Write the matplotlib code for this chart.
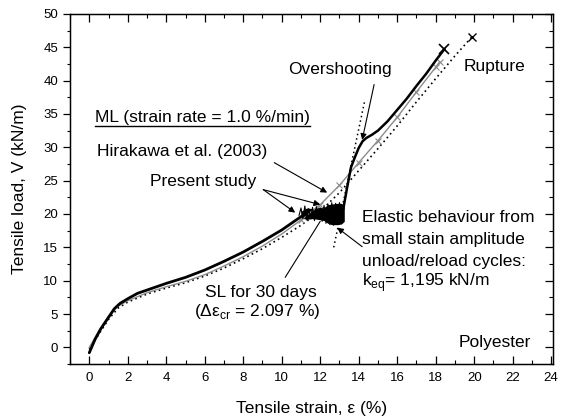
import matplotlib
matplotlib.use("Agg")
import matplotlib.pyplot as plt
from matplotlib.ticker import MultipleLocator
from matplotlib.lines import Line2D

plt.rcParams['font.family'] = ['Liberation Sans', 'DejaVu Sans']

# ---- data ----
# Present study, SL test (thick black): loading up to creep stage
sl_pre_strain = [0.0, 0.3, 0.6, 1.0, 1.3, 1.6, 2.0, 2.5, 3.0, 3.5, 4.0, 5.0, 6.0,
                 7.0, 8.0, 9.0, 10.0, 10.5, 11.0, 11.3]
sl_pre_load = [-0.8, 1.2, 2.8, 4.5, 5.8, 6.6, 7.3, 8.1, 8.6, 9.1, 9.6, 10.5, 11.6,
               12.9, 14.3, 15.9, 17.6, 18.6, 19.6, 20.0]
# creep stage with small unload/reload cycles (envelope)
creep_strain = [11.0, 11.3, 11.6, 11.9, 12.2, 12.4, 12.6, 12.9, 13.1, 13.25]
creep_upper = [20.4, 20.9, 20.8, 21.0, 21.0, 21.4, 21.5, 21.6, 21.6, 21.2]
creep_lower = [19.4, 19.2, 19.3, 19.2, 19.0, 18.6, 18.4, 18.4, 18.5, 18.9]
creep_cycle_strain = [10.9, 11.0, 11.1, 11.2, 11.3, 11.4, 11.5, 11.6, 11.7, 11.8, 11.9,
                      12.0, 12.1, 12.2, 12.3, 12.4, 12.5, 12.6, 12.7, 12.8, 12.9,
                      13.0, 13.1, 13.2]
creep_cycle_load = [19.8, 20.9, 19.3, 21.2, 19.1, 20.8, 19.4, 21.0, 19.0, 21.1, 19.2,
                    20.9, 18.9, 21.3, 18.6, 21.5, 18.4, 21.7, 18.3, 21.6, 18.4,
                    21.7, 18.6, 20.6]
# reloading after creep
sl_post_strain = [13.2, 13.4, 13.6, 13.8, 14.0, 14.2, 14.4, 14.7, 15.0, 15.5, 16.0,
                  16.5, 17.0, 17.5, 18.0, 18.45]
sl_post_load = [20.8, 24.0, 27.0, 28.5, 29.9, 30.9, 31.4, 31.9, 32.5, 33.9, 35.6,
                37.3, 39.2, 41.0, 43.0, 44.7]

# grey ML curve
grey_strain = [0.0, 0.5, 1.0, 1.5, 2.0, 3.0, 4.0, 5.0, 6.0, 7.0, 8.0, 9.0, 10.0,
               11.0, 12.0, 13.0, 14.0, 15.0, 16.0, 17.0, 18.0, 18.2]
grey_load = [0.0, 2.5, 4.7, 6.2, 7.0, 8.2, 9.1, 9.9, 10.9, 12.2, 13.6, 15.2, 17.0,
             19.1, 21.4, 24.3, 27.7, 31.0, 34.5, 38.3, 42.0, 42.8]

# dotted ML curve (to rupture)
dot_strain = [0.0, 0.5, 1.0, 1.5, 2.0, 3.0, 4.0, 5.0, 6.0, 7.0, 8.0, 9.0, 10.0,
              11.0, 12.0, 13.0, 14.0, 15.0, 16.0, 17.0, 18.0, 19.0, 19.9]
dot_load = [-0.3, 2.0, 4.2, 5.9, 6.8, 8.0, 8.9, 9.7, 10.7, 11.9, 13.3, 14.8, 16.5,
            18.3, 20.4, 23.2, 26.5, 29.8, 33.2, 36.8, 40.3, 43.7, 46.6]

# elastic stiffness line (k_eq)
keq_strain = [12.7, 14.3]
keq_load = [15.0, 36.8]

xticks = list(range(0, 25, 2))
yticks = list(range(0, 51, 5))

# ---- figure ----
fig = plt.figure(figsize=(5.67, 4.19), dpi=100)
ax = fig.add_axes([0.1235, 0.131, 0.852, 0.836])

ax.plot(dot_strain, dot_load, color='black', ls=(0, (1, 2)), lw=1.2)
ax.plot(dot_strain[-1], dot_load[-1], marker='x', color='black', ms=6, mew=1.0)
ax.plot(grey_strain, grey_load, color='#8c8c8c', lw=1.0)
ax.plot(grey_strain[13:], grey_load[13:], color='#8c8c8c', lw=0, marker='x',
        ms=4, mew=0.8)
ax.plot(keq_strain, keq_load, color='black', ls=(0, (1, 2)), lw=1.1)

ax.plot(sl_pre_strain, sl_pre_load, color='black', lw=2.0, solid_capstyle='round')
ax.fill_between(creep_strain, creep_lower, creep_upper, color='black', lw=0)
ax.plot(creep_cycle_strain, creep_cycle_load, color='black', lw=0.8)
ax.plot(sl_post_strain, sl_post_load, color='black', lw=1.8)
ax.plot(sl_post_strain[-1], sl_post_load[-1], marker='x', color='black', ms=7, mew=1.2)

ax.set_xlim(-1.0, 24.1)
ax.set_ylim(-2.5, 50)
ax.set_xticks(xticks)
ax.set_yticks(yticks)
ax.xaxis.set_minor_locator(MultipleLocator(1))
ax.yaxis.set_minor_locator(MultipleLocator(2.5))
ax.tick_params(axis='x', which='both', direction='in', top=True, labelsize=9.5,
               pad=6)
ax.tick_params(axis='x', which='major', length=6, width=0.9)
ax.tick_params(axis='x', which='minor', length=3, width=0.8)
ax.tick_params(axis='y', which='both', direction='out', right=False, labelsize=9.5)
ax.tick_params(axis='y', which='major', length=5, width=0.9)
ax.tick_params(axis='y', which='minor', length=2.5, width=0.8)
for s in ax.spines.values():
    s.set_linewidth(1.0)

ax2 = ax.twinx()
ax2.set_ylim(ax.get_ylim())
ax2.set_yticks(yticks)
ax2.yaxis.set_minor_locator(MultipleLocator(2.5))
ax2.tick_params(axis='y', which='both', direction='in', labelright=False)
ax2.tick_params(axis='y', which='major', length=6, width=0.9)
ax2.tick_params(axis='y', which='minor', length=3, width=0.8)

ax.set_xlabel('Tensile strain, ε (%)', fontsize=12.5)
ax.set_ylabel('Tensile load, V (kN/m)', fontsize=12.5)
ax.xaxis.set_label_coords(0.5, -0.105)
ax.yaxis.set_label_coords(-0.09, 0.5)

fs = 12.5
aprops = dict(arrowstyle='-|>', lw=0.8, color='black', mutation_scale=9,
              shrinkA=0, shrinkB=0)

ax.text(13.04, 41.6, 'Overshooting', fontsize=fs, ha='center', va='center')
ax.annotate('', xy=(14.18, 31.1), xytext=(14.8, 39.4), arrowprops=aprops)
ax.text(21.04, 42.1, 'Rupture', fontsize=fs, ha='center', va='center')

ml = ax.text(0.31, 34.4, 'ML (strain rate = 1.0 %/min)', fontsize=fs,
             ha='left', va='center')
ax.text(0.42, 29.3, 'Hirakawa et al. (2003)', fontsize=fs, ha='left', va='center')
ax.annotate('', xy=(12.36, 23.2), xytext=(9.61, 27.7), arrowprops=aprops)
ax.text(5.9, 24.85, 'Present study', fontsize=fs, ha='center', va='center')
ax.annotate('', xy=(12.0, 21.4), xytext=(9.04, 23.65), arrowprops=aprops)
ax.annotate('', xy=(10.7, 20.2), xytext=(9.04, 23.65), arrowprops=aprops)

ax.text(14.18, 19.46, 'Elastic behaviour from', fontsize=fs, ha='left', va='center')
ax.text(14.18, 16.17, 'small stain amplitude', fontsize=fs, ha='left', va='center')
ax.text(14.18, 12.87, 'unload/reload cycles:', fontsize=fs, ha='left', va='center')
ax.text(14.18, 9.73, r'k$_{\mathregular{eq}}$= 1,195 kN/m', fontsize=fs,
        ha='left', va='center')
ax.annotate('', xy=(12.88, 17.96), xytext=(14.18, 15.1), arrowprops=aprops)

ax.text(8.94, 8.23, 'SL for 30 days', fontsize=fs, ha='center', va='center')
ax.text(8.73, 5.4, r'(Δε$_{\mathregular{cr}}$ = 2.097 %)', fontsize=fs,
        ha='center', va='center')
ax.annotate('', xy=(12.0, 18.9), xytext=(10.18, 10.5),
            arrowprops=dict(arrowstyle='-', lw=0.8, color='black',
                            shrinkA=0, shrinkB=0))

ax.text(21.06, 0.75, 'Polyester', fontsize=fs, ha='center', va='center')

# underline for the ML heading
fig.canvas.draw()
bb = ml.get_window_extent()
W, H = fig.bbox.width, fig.bbox.height
yl = (bb.y0 - 1) / H
fig.add_artist(Line2D([bb.x0 / W, bb.x1 / W], [yl, yl], color='black', lw=1.0))

fig.savefig('out.png', dpi=100)
